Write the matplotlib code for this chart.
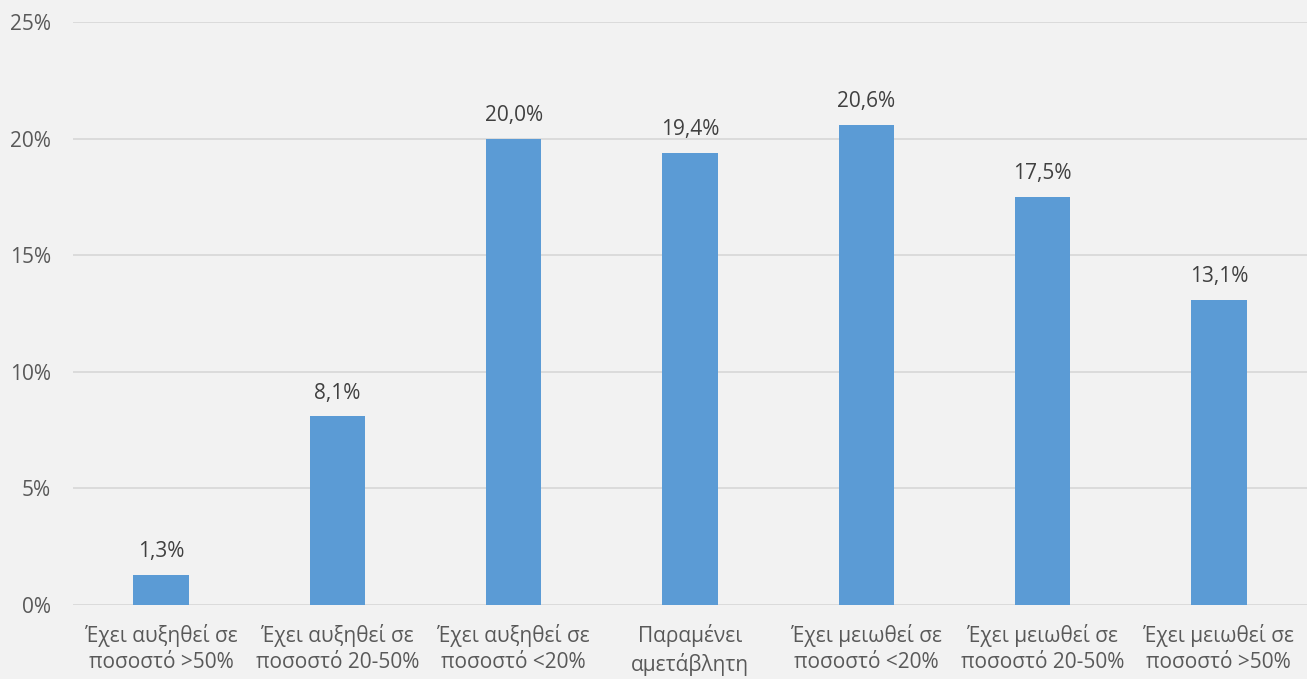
import matplotlib
matplotlib.use('Agg')
import matplotlib.pyplot as plt
from matplotlib.ticker import FuncFormatter

plt.rcParams['font.family'] = ['Open Sans', 'DejaVu Sans']

categories = ['Έχει αυξηθεί σε\nποσοστό >50%', 'Έχει αυξηθεί σε\nποσοστό 20-50%',
              'Έχει αυξηθεί σε\nποσοστό <20%', 'Παραμένει\nαμετάβλητη',
              'Έχει μειωθεί σε\nποσοστό <20%', 'Έχει μειωθεί σε\nποσοστό 20-50%',
              'Έχει μειωθεί σε\nποσοστό >50%']
values = [1.3, 8.1, 20.0, 19.4, 20.6, 17.5, 13.1]
labels = ['1,3%', '8,1%', '20,0%', '19,4%', '20,6%', '17,5%', '13,1%']

bg = '#f2f2f2'
fig = plt.figure(figsize=(13.07, 6.79), dpi=100, facecolor=bg)
ax = fig.add_axes([73/1307, 1-605/679, 1-73/1307, (605-22)/679])
ax.set_facecolor(bg)

x = range(len(values))
bars = ax.bar(x, values, width=0.315, color='#5b9bd5', zorder=3)
for b, lab in zip(bars, labels):
    ax.annotate(lab, (b.get_x() + b.get_width()/2, b.get_height()),
                xytext=(0, 9), textcoords='offset points', ha='center', va='bottom',
                fontsize=15, color='#404040')

ax.set_xlim(-0.5, len(values) - 0.5)
ax.set_ylim(0, 25)
ax.set_yticks([0, 5, 10, 15, 20, 25])
ax.yaxis.set_major_formatter(FuncFormatter(lambda v, p: f'{v:.0f}%'))
ax.grid(axis='y', color='#d9d9d9', linewidth=1.3, zorder=0)
ax.set_xticks(list(x))
ax.set_xticklabels(categories, fontsize=15, color='#595959', linespacing=1.3)
ax.tick_params(axis='y', labelsize=15, labelcolor='#595959', length=0, pad=16)
ax.tick_params(axis='x', length=0, pad=14)
for s in ax.spines.values():
    s.set_visible(False)

fig.savefig('out.png', dpi=100, facecolor=bg)
